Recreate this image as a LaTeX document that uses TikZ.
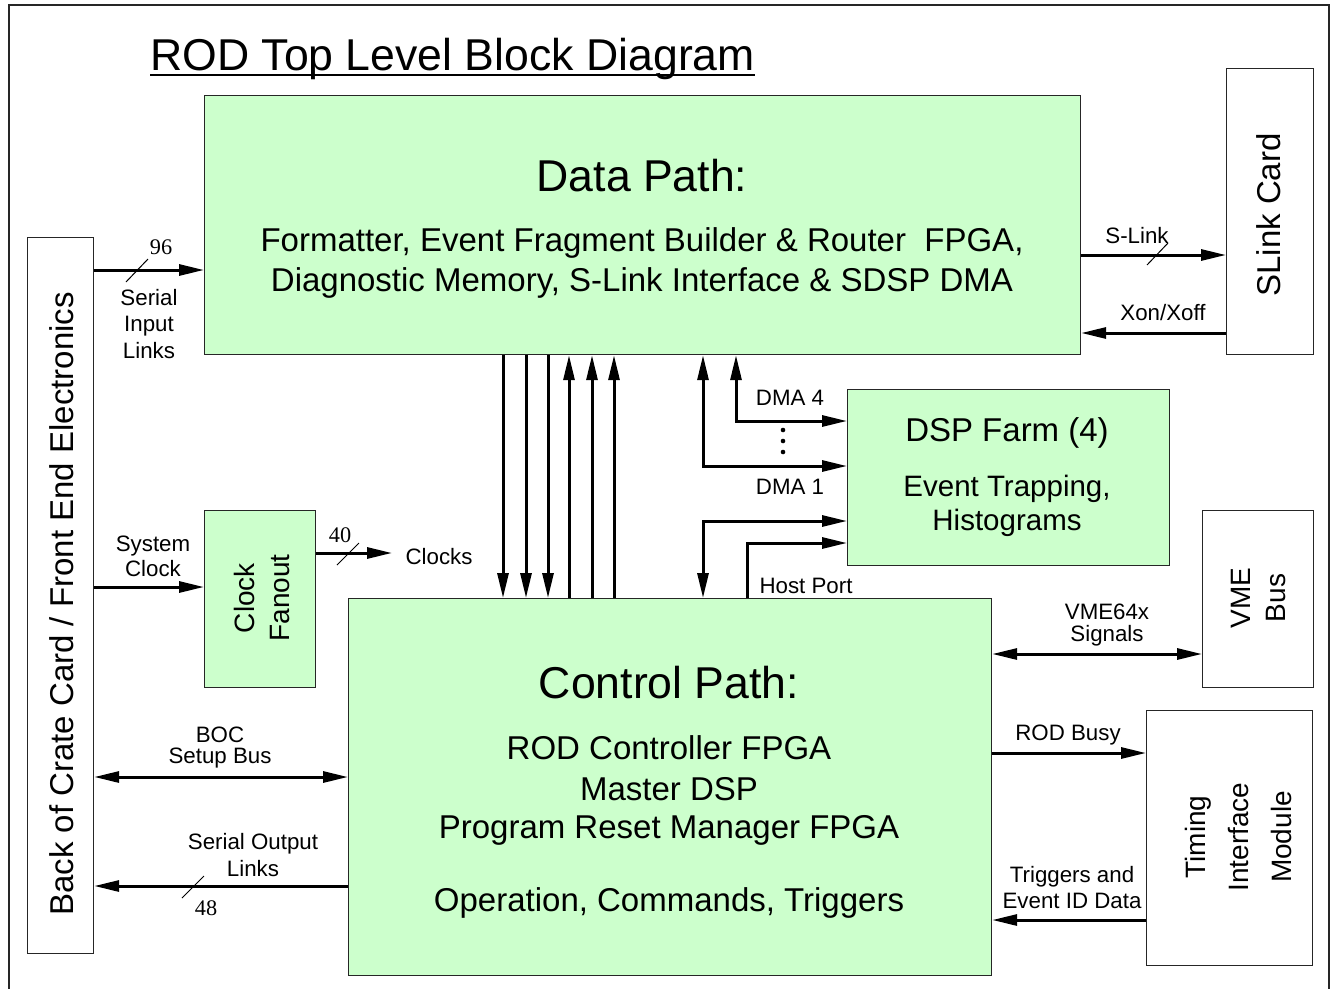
\documentclass[tikz,border=0pt]{standalone}
\usepackage{fontspec}
\setmainfont{Liberation Sans}
\newfontfamily\numfont{Liberation Serif}
\usetikzlibrary{arrows.meta}
\definecolor{boxgreen}{RGB}{204,255,204}
\newcommand\fsHuge{\fontsize{44.6}{50}\selectfont}
\newcommand\fsBlock{\fontsize{33}{41}\selectfont}
\newcommand\fsFarm{\fontsize{29.5}{34}\selectfont}
\newcommand\fsSide{\fontsize{33}{38}\selectfont}
\newcommand\fsMid{\fontsize{28}{35}\selectfont}
\newcommand\fsSmall{\fontsize{22.3}{26}\selectfont}
\begin{document}
\begin{tikzpicture}[x=1pt,y=-1pt,
  greenbox/.style={draw=black!85, line width=1.2pt, fill=boxgreen, inner sep=0pt, anchor=north west},
  whitebox/.style={draw=black!85, line width=1.2pt, fill=white, inner sep=0pt, anchor=north west},
  tip/.tip={Triangle[length=25pt,width=11pt]},
  sig/.style={line width=3pt, -tip},
  bisig/.style={line width=3pt, tip-tip},
  slash/.style={line width=1pt},
  lbl/.style={inner sep=0pt, font=\fsSmall, align=center},
  numlbl/.style={inner sep=0pt, font=\numfont\fsSmall},
  blocktxt/.style={inner sep=0pt, font=\fsBlock, align=center}]
\useasboundingbox (0,0) rectangle (1335,988);
\clip (0,0) rectangle (1335,988);

% outer frame
\draw[line width=1.8pt, black!85] (9,5) rectangle (1329,1010);

% title
\node[inner sep=0pt, anchor=base west, font=\fsHuge] (title) at (150,70) {ROD Top Level Block Diagram};
\draw[line width=2.6pt] (title.base west |- 0,75) -- (title.base east |- 0,75);

% blocks
\node[whitebox, minimum width=66pt, minimum height=716pt] (boc) at (27,237) {};
\node[greenbox, minimum width=876pt, minimum height=259pt] (data) at (204,95) {};
\node[greenbox, minimum width=643pt, minimum height=377pt] (ctrl) at (348,598) {};
\node[greenbox, minimum width=111pt, minimum height=177pt] (fan) at (204,510) {};
\node[greenbox, minimum width=322pt, minimum height=176pt] (dsp) at (847,389) {};
\node[whitebox, minimum width=87pt, minimum height=286pt] (slink) at (1226,68) {};
\node[whitebox, minimum width=111pt, minimum height=177pt] (vme) at (1202,510) {};
\node[whitebox, minimum width=166pt, minimum height=255pt] (tim) at (1146,710) {};

% block texts
\node[inner sep=0pt, rotate=90, font=\fsSide] (boctxt) at (62,604) {Back of Crate Card / Front End Electronics};
\node[inner sep=0pt, font=\fsHuge] (datatitle) at (642,176) {Data Path:};
\node[blocktxt] (datatxt1) at (642,243) {Formatter, Event Fragment Builder \& Router\ \ FPGA,};
\node[blocktxt] (datatxt2) at (642,283) {Diagnostic Memory, S-Link Interface \& SDSP DMA};
\node[inner sep=0pt, font=\fsHuge] (ctrltitle) at (669,683) {Control Path:};
\node[blocktxt] (ctrltxt1) at (669,748) {ROD Controller FPGA};
\node[blocktxt] (ctrltxt2) at (669,789) {Master DSP};
\node[blocktxt] (ctrltxt3) at (669,830) {Program Reset Manager FPGA};
\node[blocktxt] (ctrltxt4) at (669,903) {Operation, Commands, Triggers};
\node[inner sep=0pt, rotate=90, font=\fsMid, align=center] (fantxt) at (262,598) {Clock\\Fanout};
\node[inner sep=0pt, font=\fsSide] (dsptitle) at (1007,433) {DSP Farm (4)};
\node[inner sep=0pt, font=\fsFarm] (dsptxt1) at (1007,489) {Event Trapping,};
\node[inner sep=0pt, font=\fsFarm] (dsptxt2) at (1007,523) {Histograms};
\node[inner sep=0pt, rotate=90, font=\fsSide] (slinktxt) at (1269,215) {SLink Card};
\node[inner sep=0pt, rotate=90, font=\fsMid, align=center] (vmetxt) at (1258,598) {VME\\Bus};
\node[inner sep=0pt, rotate=90, font=\fontsize{28}{43}\selectfont, align=center] (timtxt) at (1238,837) {Timing\\Interface\\Module};

% serial input links
\draw[sig] (boc.east |- 0,270) -- (data.west |- 0,270);
\draw[slash] (126,282) -- (148,259);
\node[numlbl] (n96) at (161,247) {96};
\node[lbl, font=\fontsize{22.3}{26.5}\selectfont] (serin) at (149,324) {Serial\\Input\\Links};

% system clock and fanout
\draw[sig] (boc.east |- 0,587) -- (fan.west |- 0,587);
\node[lbl, font=\fontsize{22.3}{25}\selectfont] (sysclk) at (153,556) {System\\Clock};
\coordinate (clkend) at (392,553);
\draw[sig] (fan.east |- clkend) -- (clkend);
\draw[slash] (337,565) -- (359,543);
\node[numlbl] (n40) at (340,535) {40};
\node[lbl] (clocks) at (439,557) {Clocks};

% BOC setup bus
\draw[bisig] (boc.east |- 0,777) -- (ctrl.west |- 0,777);
\node[lbl, font=\fontsize{22.3}{21}\selectfont] (bocbus) at (220,748) {BOC\\Setup Bus};

% serial output links
\draw[sig] (ctrl.west |- 0,886) -- (boc.east |- 0,886);
\draw[slash] (182,898) -- (204,876);
\node[numlbl] (n48) at (206,908) {48};
\node[lbl, font=\fontsize{22.3}{27}\selectfont] (serout) at (253,855) {Serial Output\\Links};

% data path <-> control path buses
\foreach \x in {503,526,548}
  \draw[sig] (data.south -| \x,0) -- (ctrl.north -| \x,0);
\foreach \x in {569,592,614}
  \draw[sig] (ctrl.north -| \x,0) -- (data.south -| \x,0);

% DMA channels and host port
\draw[bisig] (data.south -| 736,0) -- (736,421) -- (dsp.west |- 0,421);
\draw[bisig] (data.south -| 703,0) -- (703,466) -- (dsp.west |- 0,466);
\draw[bisig] (ctrl.north -| 703,0) -- (703,521) -- (dsp.west |- 0,521);
\draw[sig] (ctrl.north -| 747,0) -- (747,543) -- (dsp.west |- 0,543);
\foreach \y in {430,441,452}
  \fill (783,\y) circle (2.3pt);
\node[lbl] (dma4) at (790,398) {DMA 4};
\node[lbl] (dma1) at (790,487) {DMA 1};
\node[lbl] (host) at (806,586) {Host Port};

% S-Link
\draw[sig] (data.east |- 0,255) -- (slink.west |- 0,255);
\draw[slash] (1147,265) -- (1168,243);
\node[lbl] (slinklbl) at (1137,236) {S-Link};
\draw[sig] (slink.west |- 0,333) -- (data.east |- 0,333);
\node[lbl] (xon) at (1163,313) {Xon/Xoff};

% VME
\draw[bisig] (ctrl.east |- 0,654) -- (vme.west |- 0,654);
\node[lbl, font=\fontsize{22.3}{22}\selectfont] (vmelbl) at (1107,625) {VME64x\\Signals};

% TIM
\draw[sig] (ctrl.east |- 0,753) -- (tim.west |- 0,753);
\node[lbl] (busy) at (1068,735) {ROD Busy};
\draw[sig] (tim.west |- 0,920) -- (ctrl.east |- 0,920);
\node[lbl] (trig) at (1072,888) {Triggers and\\Event ID Data};
\end{tikzpicture}
\end{document}
